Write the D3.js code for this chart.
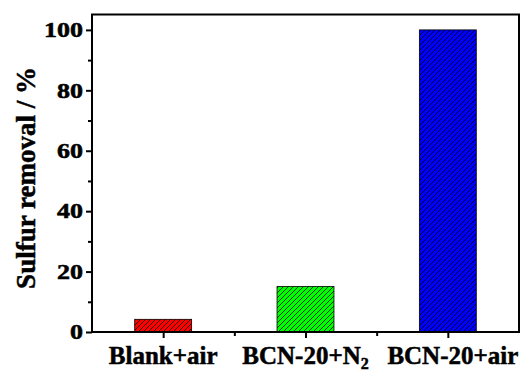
<!DOCTYPE html>
<html>
<head>
<meta charset="utf-8">
<script src="https://cdn.jsdelivr.net/npm/d3@7"></script>
<style>
body { margin: 0; background: #fff; }
text { font-family: "Liberation Serif", "Times New Roman", serif; font-weight: bold; }
</style>
</head>
<body>
<svg width="528" height="374"></svg>
<script>
// data
var categories = ["Blank+air", "BCN-20+N2", "BCN-20+air"];
var removal = [4.2, 15.1, 100];
var colors = ["#ff0000", "#00ff00", "#0000ff"];
var yTicks = [0, 20, 40, 60, 80, 100];
var yMinorTicks = [10, 30, 50, 70, 90];

var svg = d3.select("svg");
var mLeft = 92, mRight = 519, mTop = 14.5, mBottom = 332;

var x = d3.scaleLinear().domain([0.5, 3.5]).range([mLeft, mRight]);
var y = d3.scaleLinear().domain([0, 105.1]).range([mBottom, mTop]);

// hatch patterns
var defs = svg.append("defs");
colors.forEach(function(c, i) {
  var p = defs.append("pattern")
    .attr("id", "hatch" + i)
    .attr("patternUnits", "userSpaceOnUse")
    .attr("width", 5).attr("height", 5);
  p.append("rect").attr("width", 5).attr("height", 5).attr("fill", c);
  p.append("path")
    .attr("d", "M-1,6 L6,-1 M-1,1 L1,-1 M4,6 L6,4")
    .attr("stroke", "#000").attr("stroke-width", 0.8);
});

// bars
svg.selectAll("rect.bar")
  .data(removal)
  .enter().append("rect")
    .attr("class", "bar")
    .attr("x", function(d, i) { return x(i + 1) - (x(1.2) - x(1)); })
    .attr("width", x(1.4) - x(1))
    .attr("y", function(d) { return y(d); })
    .attr("height", function(d) { return y(0) - y(d); })
    .attr("fill", function(d, i) { return "url(#hatch" + i + ")"; })
    .attr("stroke", "#000")
    .attr("stroke-width", 0.8);

// frame
svg.append("rect")
  .attr("x", mLeft).attr("y", mTop)
  .attr("width", mRight - mLeft).attr("height", mBottom - mTop)
  .attr("fill", "none").attr("stroke", "#000").attr("stroke-width", 2);

// y axis
var yAxis = svg.append("g")
  .attr("transform", "translate(" + mLeft + ",0)")
  .call(d3.axisLeft(y).tickValues(yTicks).tickSize(6).tickFormat(d3.format("d")));
yAxis.select(".domain").remove();
yAxis.selectAll("line").attr("stroke-width", 2);
// wide heavy digits, as in the reference
yAxis.selectAll("text")
  .attr("x", -9 / 1.3)
  .attr("transform", "scale(1.3,1)")
  .attr("dy", "0.34em")
  .attr("font-size", 20).attr("fill", "#000")
  .attr("stroke", "#000").attr("stroke-width", 0.5)
  .style("font-family", "'Liberation Serif', serif").style("font-weight", "bold");

var yMinor = svg.append("g")
  .attr("transform", "translate(" + mLeft + ",0)")
  .call(d3.axisLeft(y).tickValues(yMinorTicks).tickSize(4).tickFormat(""));
yMinor.select(".domain").remove();
yMinor.selectAll("line").attr("stroke-width", 2);

// x axis
var xAxis = svg.append("g")
  .attr("transform", "translate(0," + mBottom + ")")
  .call(d3.axisBottom(x).tickValues([1, 2, 3]).tickSize(6).tickFormat(""));
xAxis.select(".domain").remove();
xAxis.selectAll("line").attr("stroke-width", 2);

var xMinor = svg.append("g")
  .attr("transform", "translate(0," + mBottom + ")")
  .call(d3.axisBottom(x).tickValues([1.5, 2.5]).tickSize(4).tickFormat(""));
xMinor.select(".domain").remove();
xMinor.selectAll("line").attr("stroke-width", 2);

// x labels (with subscript)
categories.forEach(function(c, i) {
  var t = svg.append("text")
    .attr("x", x(i + 1) + (i === 2 ? 5 : 0))
    .attr("y", 364)
    .attr("text-anchor", "middle")
    .attr("font-size", 25)
    .attr("stroke", "#000").attr("stroke-width", 0.5);
  var m = c.match(/^(.*N)(\d)$/);
  if (m) {
    t.append("tspan").text(m[1]);
    t.append("tspan").attr("dy", 5).attr("font-size", 16).text(m[2]);
  } else {
    t.text(c);
  }
});

// y title
svg.append("text")
  .attr("transform", "translate(35,178) rotate(-90)")
  .attr("text-anchor", "middle")
  .attr("font-size", 27)
  .attr("stroke", "#000").attr("stroke-width", 0.5)
  .text("Sulfur removal / %");
</script>
</body>
</html>
